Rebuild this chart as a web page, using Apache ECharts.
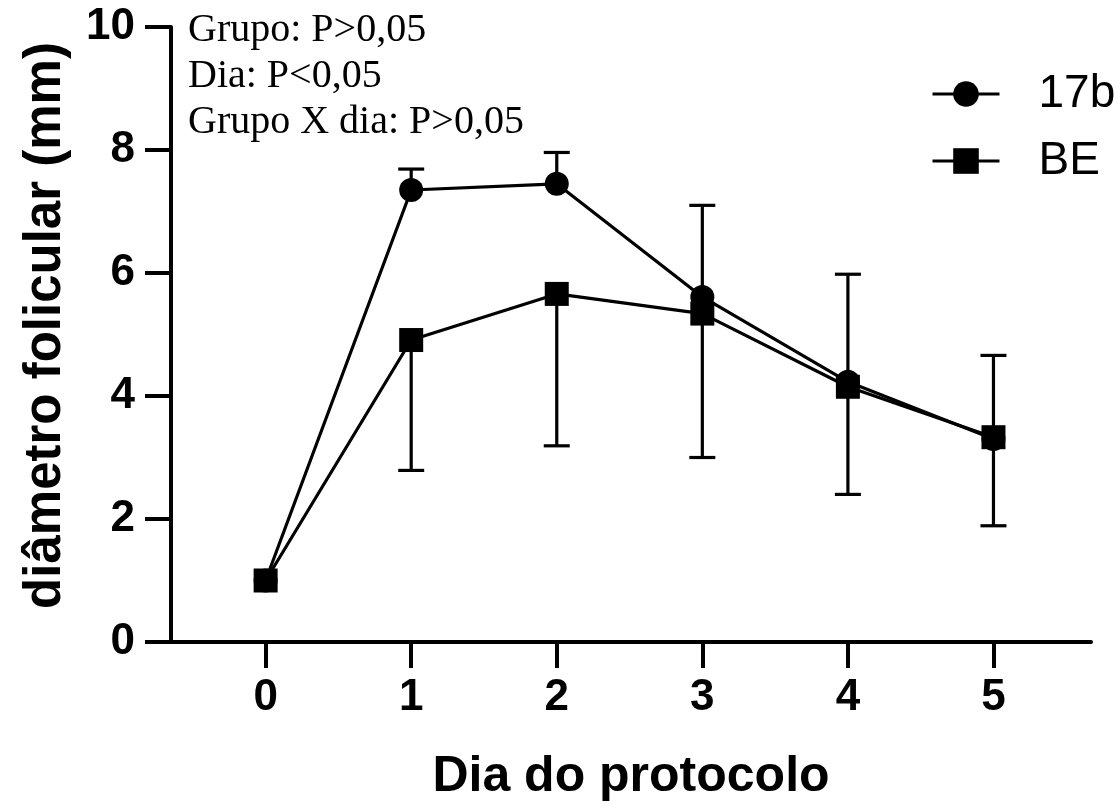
<!DOCTYPE html>
<html>
<head>
<meta charset="utf-8">
<script src="https://cdn.jsdelivr.net/npm/echarts@6/dist/echarts.min.js"></script>
<style>
html,body{margin:0;padding:0;background:#fff;}
#chart{width:1118px;height:807px;}
</style>
</head>
<body>
<div id="chart"></div>
<script>
// ---- data ----
const days = [0, 1, 2, 3, 4, 5];
const mean17b = [1.0, 7.35, 7.45, 5.61, 4.23, 3.30];
const meanBE = [1.0, 4.91, 5.66, 5.34, 4.15, 3.33];
const errEnd17b = [null, 7.69, 7.96, 7.10, 5.98, 4.66]; // upper error bar ends
const errEndBE = [null, 2.79, 3.19, 3.00, 2.40, 1.89];  // lower error bar ends
const xTickValues = [0, 1, 2, 3, 4, 5];
const seriesNames = ['17b', 'BE'];
const statLines = ['Grupo: P>0,05', 'Dia: P<0,05', 'Grupo X dia: P>0,05'];

const sans = 'Liberation Sans, Arial, sans-serif';
const serif = 'Liberation Serif, Times New Roman, serif';

function pairs(ys) { return days.map((d, i) => [d, ys[i]]); }
function errData(means, ends) {
  const out = [];
  days.forEach((d, i) => { if (ends[i] !== null) out.push([d, means[i], ends[i]]); });
  return out;
}
function renderErr(params, api) {
  const x = api.value(0), m = api.value(1), e = api.value(2);
  const p0 = api.coord([x, m]);
  const p1 = api.coord([x, e]);
  const half = 13;
  return {
    type: 'group',
    children: [
      { type: 'line', shape: { x1: p0[0], y1: p0[1], x2: p1[0], y2: p1[1] }, style: { stroke: '#000', lineWidth: 3.2 } },
      { type: 'line', shape: { x1: p1[0] - half, y1: p1[1], x2: p1[0] + half, y2: p1[1] }, style: { stroke: '#000', lineWidth: 3.2 } }
    ]
  };
}

const chart = echarts.init(document.getElementById('chart'), null, { renderer: 'canvas' });
chart.setOption({
  animation: false,
  backgroundColor: '#fff',
  grid: { left: 171, right: 27, top: 27, bottom: 165, containLabel: false },
  xAxis: {
    type: 'value', min: -0.65, max: 5.67,
    name: 'Dia do protocolo', nameLocation: 'middle', nameGap: 110,
    nameTextStyle: { fontFamily: sans, fontWeight: 'bold', fontSize: 50, color: '#000' },
    axisLine: { show: true, onZero: false, lineStyle: { color: '#000', width: 4 } },
    axisTick: { show: true, customValues: xTickValues, length: 26, inside: false, lineStyle: { color: '#000', width: 4 } },
    axisLabel: { customValues: xTickValues, fontFamily: sans, fontWeight: 'bold', fontSize: 44, color: '#000', margin: 34 },
    splitLine: { show: false }
  },
  yAxis: {
    type: 'value', min: 0, max: 10, interval: 2,
    name: 'diâmetro folicular (mm)', nameLocation: 'middle', nameGap: 100,
    nameTextStyle: { fontFamily: sans, fontWeight: 'bold', fontSize: 51, color: '#000', padding: [0, 0, 0, 18] },
    axisLine: { show: true, onZero: false, lineStyle: { color: '#000', width: 4 } },
    axisTick: { show: true, length: 26, lineStyle: { color: '#000', width: 4 } },
    axisLabel: { fontFamily: sans, fontWeight: 'bold', fontSize: 44, color: '#000', margin: 36 },
    splitLine: { show: false }
  },
  legend: {
    orient: 'vertical', left: 926, top: 66,
    itemWidth: 67, itemHeight: 32, itemGap: 21,
    data: seriesNames,
    lineStyle: { width: 3 },
    textStyle: { fontFamily: sans, fontSize: 46, color: '#000', padding: [0, 0, 0, 34] }
  },
  graphic: statLines.map((t, i) => ({
    type: 'text', left: 188, top: 10 + i * 46,
    style: { text: t, font: '40px ' + serif, fill: '#000' }
  })),
  series: [
    {
      name: seriesNames[0], type: 'line', data: pairs(mean17b),
      symbol: 'circle', symbolSize: 24,
      lineStyle: { color: '#000', width: 3.2 }, itemStyle: { color: '#000' }, z: 3
    },
    {
      name: seriesNames[1], type: 'line', data: pairs(meanBE),
      symbol: 'rect', symbolSize: 24,
      lineStyle: { color: '#000', width: 3.2 }, itemStyle: { color: '#000' }, z: 4
    },
    {
      name: 'err-' + seriesNames[0], type: 'custom', renderItem: renderErr, data: errData(mean17b, errEnd17b),
      z: 1, silent: true
    },
    {
      name: 'err-' + seriesNames[1], type: 'custom', renderItem: renderErr, data: errData(meanBE, errEndBE),
      z: 1, silent: true
    }
  ]
});
</script>
</body>
</html>
